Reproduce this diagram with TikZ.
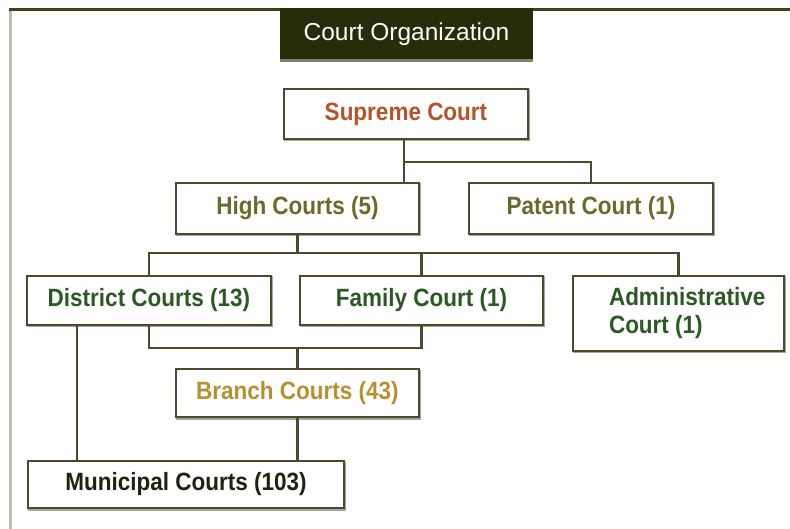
\documentclass[tikz,border=0pt]{standalone}
\usepackage{fontspec}
\setmainfont{Liberation Sans}
\newfontfamily\condfont{Liberation Sans}[FakeStretch=0.9]
\definecolor{frameolive}{HTML}{3D4219}
\definecolor{framegray}{HTML}{BDBDB0}
\definecolor{headfill}{HTML}{262D08}
\definecolor{boxline}{HTML}{4B4A2E}
\definecolor{boxshade}{HTML}{A8A898}
\definecolor{supc}{HTML}{B5532C}
\definecolor{highc}{HTML}{6B6A2C}
\definecolor{distc}{HTML}{2A5A22}
\definecolor{branc}{HTML}{B8902F}
\definecolor{munc}{HTML}{1C2410}
\tikzset{
  courtbox/.style={draw=boxline, line width=2.3pt, fill=white, inner sep=0pt,
    font=\condfont\bfseries\fontsize{25}{27}\selectfont,
    preaction={draw=boxshade, line width=2pt, transform canvas={shift={(1pt,-1.5pt)}}}},
  link/.style={draw=boxline, line width=2.2pt}
}
\begin{document}
\begin{tikzpicture}[x=1pt,y=-1pt]
\useasboundingbox (0,0) rectangle (790,529);
% frame
\fill[framegray] (9,8) rectangle (12,529);
\fill[frameolive] (9,8) rectangle (790,11);
% header
\fill[boxshade!70!headfill] (280,58) rectangle (533,62);
\node[fill=headfill, minimum width=253pt, minimum height=51pt, inner sep=0pt,
      text=white, font=\fontsize{24.5}{26}\selectfont] (head) at (406.5,34) {Court Organization};
% boxes
\node[courtbox, minimum width=244pt, minimum height=50pt, text=supc] (sup) at (406,114) {Supreme Court};
\node[courtbox, minimum width=243pt, minimum height=51pt, text=highc] (high) at (297.5,208.5) {High Courts (5)};
\node[courtbox, minimum width=244pt, minimum height=51pt, text=highc] (pat) at (591,208.5) {Patent Court (1)};
\node[courtbox, minimum width=244pt, minimum height=49pt, text=distc] (dist) at (149,300.5) {District Courts (13)};
\node[courtbox, minimum width=243pt, minimum height=49pt, text=distc] (fam) at (421.5,300.5) {Family Court (1)};
\node[courtbox, minimum width=211pt, minimum height=75pt, text=distc, align=left] (adm) at (678.5,313.5)
  {\raisebox{-2pt}{\makebox[139pt][l]{Administrative}}\\[0pt]\raisebox{-3pt}{\makebox[139pt][l]{Court (1)}}};
\node[courtbox, minimum width=243pt, minimum height=48pt, text=branc] (bran) at (297.5,393) {Branch Courts (43)};
\node[courtbox, minimum width=316pt, minimum height=47pt, text=munc] (mun) at (186,484.5) {Municipal Courts (103)};
% junction coordinates
\coordinate (j1) at (404,162);
\coordinate (j2) at (297,253);
\coordinate (j3) at (297,348);
\coordinate (dm) at (77,400);
% connectors
\draw[link] (sup.south -| j1) -- (high.north -| j1);
\draw[link] (j1) -| (pat.north);
\draw[link] (high.south) -- (high.south |- j2);
\draw[link] (dist.north) -- (dist.north |- j2) -- (adm.north |- j2) -- (adm.north);
\draw[link] (fam.north) -- (fam.north |- j2);
\draw[link] (dist.south) -- (dist.south |- j3) -- (fam.south |- j3) -- (fam.south);
\draw[link] (bran.north) -- (bran.north |- j3);
\draw[link] (bran.south) -- (mun.north -| bran.south);
\draw[link] (dist.south -| dm) -- (mun.north -| dm);
\end{tikzpicture}
\end{document}
